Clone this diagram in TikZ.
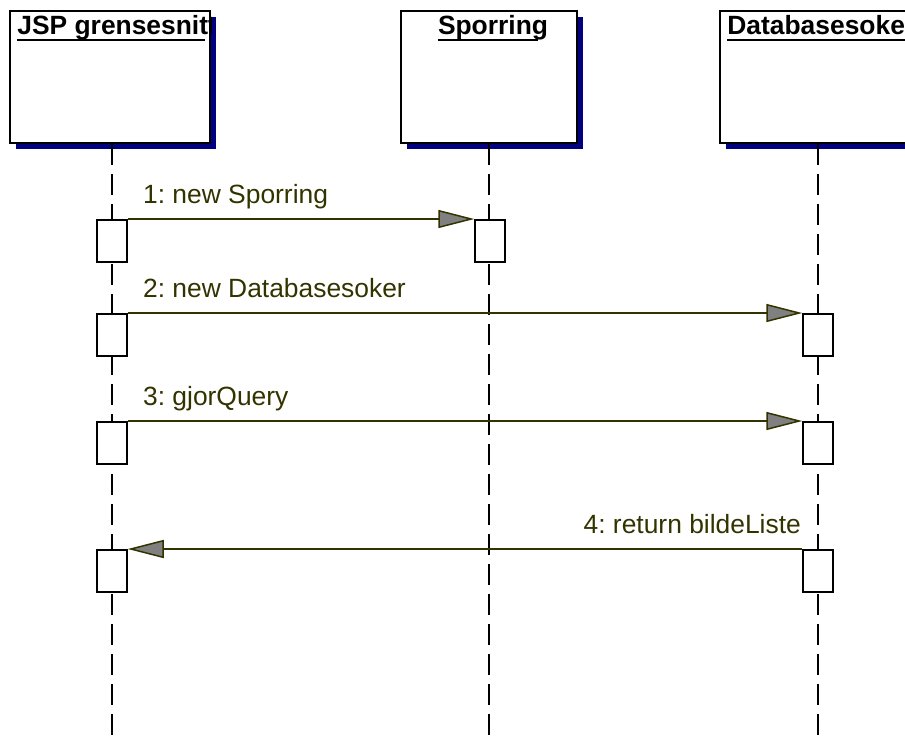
\documentclass[tikz,border=0pt]{standalone}
\usepackage{fontspec}
\setmainfont{Liberation Sans}
\usetikzlibrary{positioning}
\usetikzlibrary{arrows.meta}
\usetikzlibrary{shadows}
\frenchspacing
\definecolor{shadowblue}{RGB}{0,0,128}
\definecolor{msgolive}{RGB}{51,51,0}
\tikzset{objbox/.style = {draw, line width=1pt, fill=white, minimum height=66pt, inner sep=0,
                          drop shadow={shadow xshift=3pt, shadow yshift=-3pt, fill=shadowblue, opacity=1}}}
\tikzset{objtitle/.style = {font=\bfseries\fontsize{13.2}{15}\selectfont, inner sep=0}}
\tikzset{lifeline/.style = {line width=1pt, dash pattern=on 10.5pt off 4.5pt}}
\tikzset{act/.style = {draw, fill=white, line width=0.75pt, minimum width=15pt, minimum height=21pt, inner sep=0, anchor=north}}
\tikzset{msg/.style = {draw=msgolive, line width=0.75pt, -{Triangle[length=18pt, width=9pt, fill=gray]}}}
\tikzset{msglabel/.style = {text=msgolive, font=\fontsize{13.2}{15}\selectfont, inner sep=0}}

\begin{document}
\begin{tikzpicture}[x=0.5pt, y=-0.5pt]
      \clip (0, 0) rectangle (905, 746);

      \node [objbox, minimum width=100pt] (jsp) at (110, 77) {};
      \node [objbox, minimum width=88pt] (spor) at (489, 77) {};
      \node [objbox, minimum width=98pt] (dbs) at (818, 77) {};

      \begin{scope}
        \clip (jsp.north west) rectangle (jsp.south east);
        \node [objtitle, anchor=base west] (jsptitle) at ([shift={(8, 24)}]jsp.north west) {JSP grensesnitt};
        \draw [line width=1pt] ([shift={(0, 6)}]jsptitle.base west) -- ([shift={(-12, 6)}]jsptitle.base east);
      \end{scope}
      \node [objtitle, anchor=base] (sportitle) at ([shift={(4, 24)}]spor.north) {Sporring};
      \draw [line width=1pt] ([shift={(0, 6)}]sportitle.base west) -- ([shift={(-10, 6)}]sportitle.base east);
      \node [objtitle, anchor=base west] (dbstitle) at ([shift={(8, 24)}]dbs.north west) {Databasesoker};
      \draw [line width=1pt] ([shift={(0, 6)}]dbstitle.base west) -- ([shift={(-10, 6)}]dbstitle.base east);

      % lifelines
      \coordinate (jspend) at (112, 740);
      \coordinate (sporend) at (489, 740);
      \coordinate (dbsend) at (818, 740);
      \draw [lifeline] (jsp.south) ++(2, 0) -- (jspend);
      \draw [lifeline] (spor.south) -- (sporend);
      \draw [lifeline] (dbs.south) -- (dbsend);

      % activations
      \node [act] (j1) at (112, 219) {};
      \node [act] (s1) at (490, 219) {};
      \node [act] (j2) at (112, 313) {};
      \node [act] (d2) at (818, 313) {};
      \node [act] (j3) at (112, 421) {};
      \node [act] (d3) at (818, 421) {};
      \node [act] (j4) at (112, 549) {};
      \node [act] (d4) at (818, 549) {};

      % messages
      \draw [msg] (j1.north east) -- (s1.north west);
      \node [msglabel, anchor=base west] (m1) at ([shift={(15, -16)}]j1.north east) {1: new Sporring};
      \draw [msg] (j2.north east) -- (d2.north west);
      \node [msglabel, anchor=base west] (m2) at ([shift={(15, -16)}]j2.north east) {2: new Databasesoker};
      \draw [msg] (j3.north east) -- (d3.north west);
      \node [msglabel, anchor=base west] (m3) at ([shift={(15, -16)}]j3.north east) {3: gjorQuery};
      \draw [msg] (d4.north west) -- (j4.north east);
      \node [msglabel, anchor=base east] (m4) at ([shift={(-1, -16)}]d4.north west) {4: return bildeListe};
    \end{tikzpicture}
\end{document}
